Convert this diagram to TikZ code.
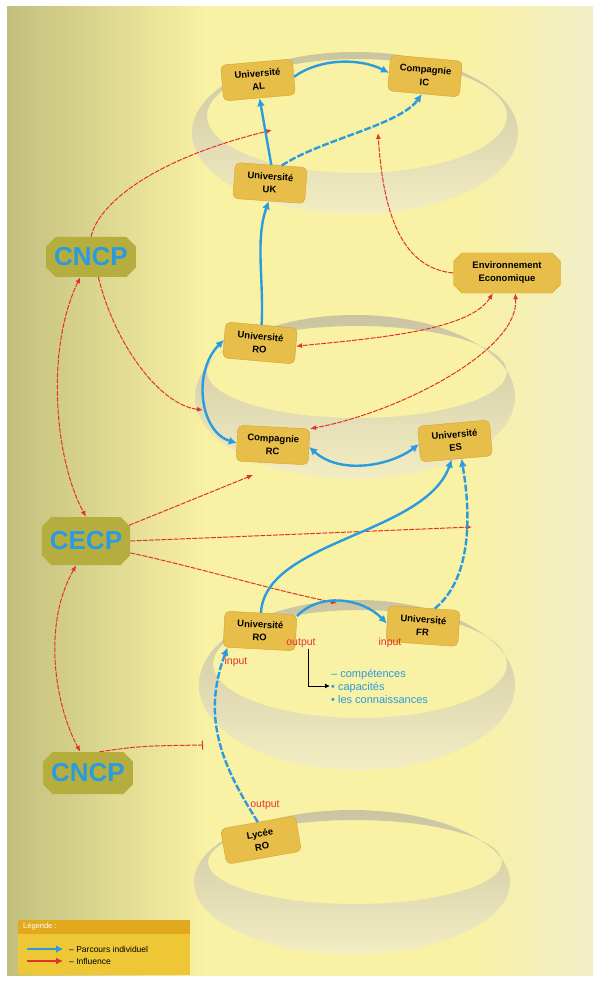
\documentclass[tikz,border=0pt]{standalone}
\usepackage{fontspec}
\setmainfont{Liberation Sans}
\usetikzlibrary{arrows.meta,shapes.misc}
\definecolor{cblue}{HTML}{2B9BDF}
\definecolor{cred}{HTML}{E2332B}
\definecolor{cgold}{HTML}{E8BE4A}
\definecolor{cgoldedge}{HTML}{D4A32C}
\definecolor{colive}{HTML}{B5AE3E}
\definecolor{bgleft}{HTML}{C2BF7E}
\definecolor{bgmid}{HTML}{F9F1A3}
\definecolor{bgright}{HTML}{F1EEC8}
\definecolor{ringtop}{HTML}{CAC5A0}
\definecolor{ringmid}{HTML}{DCD7B2}
\definecolor{ringbot}{HTML}{F2EDC2}
\definecolor{legbody}{HTML}{EEC737}
\definecolor{leghead}{HTML}{E3A91E}
\pgfdeclarehorizontalshading{fondshade}{100bp}{color(0bp)=(bgleft); color(25bp)=(bgleft);
  color(42bp)=(bgmid); color(64bp)=(bgmid); color(75bp)=(bgright); color(100bp)=(bgright)}
\begin{document}
\begin{tikzpicture}[x=1pt,y=-1pt,
  inst/.style={draw=cgoldedge,fill=cgold,rounded corners=5pt,minimum width=72pt,
    minimum height=36pt,font=\bfseries\fontsize{9.5}{13}\selectfont,align=center,inner sep=2pt},
  conseil/.style={fill=colive,chamfered rectangle,chamfered rectangle xsep=6pt,
    minimum width=82pt,minimum height=40pt,text=cblue,
    font=\bfseries\fontsize{26}{26}\selectfont,inner sep=2pt},
  parc/.style={draw=cblue,line width=2.4pt,-{Latex[length=8pt,width=8pt]}},
  infl/.style={draw=cred,line width=1pt,dash pattern=on 5pt off 1.2pt,
    -{Latex[length=6pt,width=5pt]}},
  lbl/.style={text=cred,font=\fontsize{10.5}{12}\selectfont,inner sep=1pt},
  ringband/.style={even odd rule,top color=ringtop,middle color=ringmid,bottom color=ringbot}]
  \useasboundingbox (0,0) rectangle (600,981);
  \fill[white] (0,0) rectangle (600,981);
  \shade[shading=fondshade] (7,7) rectangle (593,975);

  \shade[ringband] (355,133) ellipse [x radius=163,y radius=81]
    (357,116) ellipse [x radius=150,y radius=57];
  \shade[ringband] (355,397) ellipse [x radius=160,y radius=82]
    (357,372) ellipse [x radius=150,y radius=46];
  \shade[ringband] (357,685) ellipse [x radius=158,y radius=85]
    (360,664) ellipse [x radius=147,y radius=54];
  \shade[ringband] (352,882) ellipse [x radius=158,y radius=72]
    (355,862) ellipse [x radius=147,y radius=42];

  \node[inst,rotate=5] (al) at (258,80) {Université\\AL};
  \node[inst,rotate=-5] (ic) at (425,76) {Compagnie\\IC};
  \node[inst,rotate=-4] (uk) at (270,183) {Université\\UK};
  \node[inst,chamfered rectangle,chamfered rectangle xsep=5pt,rounded corners=0pt,
    minimum width=107pt,minimum height=40pt] (eco) at (507,273) {Environnement\\Economique};
  \node[inst,rotate=-5] (ro2) at (260,343) {Université\\RO};
  \node[inst,rotate=-3] (rc) at (273,445) {Compagnie\\RC};
  \node[inst,rotate=5] (es) at (455,441) {Université\\ES};
  \node[inst,rotate=-3] (ro3) at (260,631) {Université\\RO};
  \node[inst,rotate=-4] (fr) at (423,626) {Université\\FR};
  \node[inst,rotate=10,minimum width=76pt] (ly) at (261,840) {Lycée\\RO};

  \node[conseil] (cncpa) at (91,257) {CNCP};
  \node[conseil,minimum width=85pt,minimum height=48pt] (cecp) at (86,541) {CECP};
  \node[conseil,minimum width=85pt,minimum height=42pt] (cncpb) at (88,773) {CNCP};

  \coordinate (t1) at (272,130);
  \coordinate (t2) at (378,133);
  \coordinate (r2l) at (203,410);
  \coordinate (r2b) at (253,475);
  \coordinate (r2r) at (472,527);
  \coordinate (r3t) at (337,603);
  \coordinate (r3l) at (203,745);

  \draw[infl] (cncpa.north) .. controls (98,205) and (150,160) .. (t1);
  \draw[infl] (cncpa.-70) .. controls (115,345) and (160,405) .. (r2l);
  \draw[infl,{Latex[length=6pt,width=5pt]}-{Latex[length=6pt,width=5pt]}]
    (cncpa.-118) .. controls (45,350) and (55,460) .. (cecp.north);
  \draw[infl] (eco.west) .. controls (400,268) and (383,210) .. (t2);
  \draw[infl,{Latex[length=6pt,width=5pt]}-{Latex[length=6pt,width=5pt]}]
    (eco.235) .. controls (470,330) and (380,338) .. (ro2.east);
  \draw[infl,{Latex[length=6pt,width=5pt]}-{Latex[length=6pt,width=5pt]}]
    (eco.292) .. controls (520,350) and (400,412) .. (rc.north east);
  \draw[infl] (cecp.20) -- (r2b);
  \draw[infl] (cecp.east) -- (r2r);
  \draw[infl] (cecp.-15) .. controls (200,568) and (280,592) .. (r3t);
  \draw[infl,{Latex[length=6pt,width=5pt]}-{Latex[length=6pt,width=5pt]}]
    (cecp.-112) .. controls (42,625) and (55,705) .. (cncpb.110);
  \draw[infl,-{Bar[width=9pt]}] (cncpb.62) .. controls (140,746) .. (r3l);

  \draw[parc] (al.east) .. controls (320,58) and (360,58) .. (ic.west);
  \draw[parc] (uk.north) -- (al.south);
  \draw[parc,dash pattern=on 7pt off 2pt] (uk.60) .. controls (320,140) and (400,125) .. (ic.-95);
  \draw[parc] (ro2.north) .. controls (264,280) and (255,240) .. (uk.south);
  \draw[parc,{Latex[length=8pt,width=8pt]}-{Latex[length=8pt,width=8pt]}]
    (ro2.west) .. controls (192,372) and (200,432) .. (rc.west);
  \draw[parc,{Latex[length=8pt,width=8pt]}-{Latex[length=8pt,width=8pt]}]
    (rc.east) .. controls (340,475) and (390,466) .. (es.west);
  \draw[parc] (ro3.north) .. controls (265,540) and (425,535) .. (es.-105);
  \draw[parc] (ro3.25) .. controls (320,592) and (362,598) .. (fr.west);
  \draw[parc,dash pattern=on 7pt off 2pt] (fr.60) .. controls (470,580) and (472,520) .. (es.-75);
  \draw[parc,dash pattern=on 7pt off 2pt] (ly.north) .. controls (225,770) and (200,720) .. (ro3.-150);

  \node[lbl] (in1) at (236,662) {input};
  \node[lbl] (out1) at (301,643) {output};
  \node[lbl] (in2) at (390,643) {input};
  \node[lbl] (out2) at (265,805) {output};
  \node[anchor=west,align=left,text=cblue,inner sep=1pt,
    font=\fontsize{11}{13}\selectfont] (acq) at (330,686)
    {– compétences\\• capacités\\• les connaissances};
  \draw[-{Latex[length=5pt,width=5pt]},line width=1pt] ([xshift=7pt]out1.south) |- (acq.west);

  \fill[legbody] (18,920) rectangle (190,975);
  \fill[leghead] (18,920) rectangle (190,934);
  \node[anchor=west,text=white,font=\fontsize{7.5}{8}\selectfont,inner sep=0pt] (legt) at (23,927) {Légende :};
  \coordinate (lga) at (27,949);
  \coordinate (lgb) at (63,949);
  \coordinate (lgc) at (27,961);
  \coordinate (lgd) at (63,961);
  \draw[parc,line width=1.5pt,-{Latex[length=7pt,width=8pt]}] (lga) -- (lgb);
  \draw[draw=cred,line width=1.5pt,-{Latex[length=7pt,width=7pt]}] (lgc) -- (lgd);
  \node[anchor=west,font=\fontsize{8.5}{9}\selectfont,inner sep=1pt] (leg1) at (68,949) {– Parcours individuel};
  \node[anchor=west,font=\fontsize{8.5}{9}\selectfont,inner sep=1pt] (leg2) at (68,961) {– Influence};
\end{tikzpicture}
\end{document}
